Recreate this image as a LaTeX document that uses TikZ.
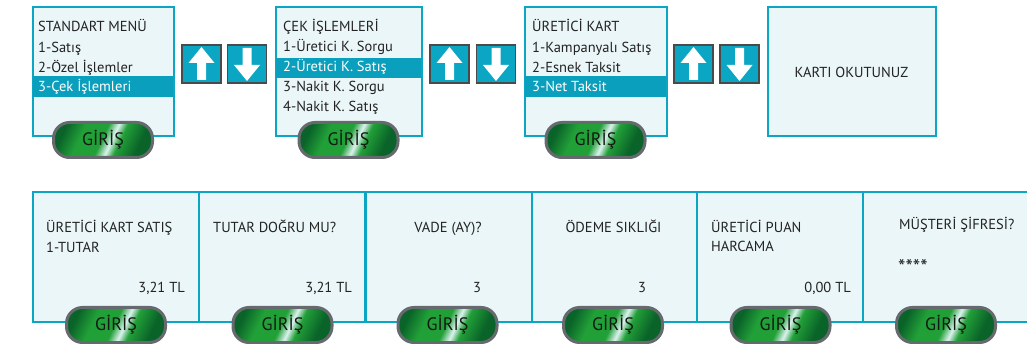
\documentclass[tikz,border=0pt]{standalone}
\usepackage{fontspec}
\setmainfont{PT Sans}

\definecolor{scrline}{HTML}{0AA6C4}
\definecolor{scrbg}{HTML}{EBF6F8}
\definecolor{selcol}{HTML}{0A9FBD}
\definecolor{txtdark}{HTML}{232323}
\definecolor{arrfill}{HTML}{0AA6C4}
\definecolor{arredge}{HTML}{4A4A4A}
\definecolor{btnedge}{HTML}{666A6E}
\definecolor{btntxt}{HTML}{121A14}
\definecolor{gdark}{HTML}{0A6429}
\definecolor{gmid}{HTML}{22A038}
\definecolor{glight}{HTML}{DDF2F0}

\newcommand{\scrfont}{\fontsize{14.5}{17}\selectfont}
\newcommand{\btnfont}{\fontsize{18}{20}\selectfont}

\pgfdeclarehorizontalshading{girisfill}{100bp}{color(0bp)=(gdark); color(25bp)=(gdark);
  color(36bp)=(gmid); color(49bp)=(gmid); color(55bp)=(glight); color(60bp)=(gmid);
  color(72bp)=(gdark); color(100bp)=(gdark)}

\tikzset{
  screen/.style={draw=scrline, fill=scrbg, line width=2pt, minimum height=129pt, inner sep=0pt},
  panel/.style={screen, minimum width=166pt},
  scrtxt/.style={font=\scrfont, text=txtdark, inner sep=0pt},
  seltxt/.style={scrtxt, text=white},
  girisbtn/.style={rectangle, rounded corners=16pt, minimum width=99pt, minimum height=35pt,
    draw=btnedge, line width=3pt, shade, shading=girisfill, shading angle=-25,
    font=\btnfont, text=btntxt, inner sep=0pt},
  arrbtn/.style={draw=arredge, fill=arrfill, line width=1.5pt, minimum width=39pt,
    minimum height=38pt, inner sep=0pt},
}

\begin{document}
\begin{tikzpicture}[x=1pt,y=-1pt]
\useasboundingbox (0,0) rectangle (1027,344);
\clip (0,0) rectangle (1027,344);

% Standart menu screen
\node[screen, minimum width=141pt] (s1) at (103,72) {};
\fill[selcol] (33,76) rectangle (173,97);
\node[scrtxt, anchor=base west] (s1t) at (38,32) {STANDART MENÜ};
\node[scrtxt, anchor=base west] (s1a) at (38,52.5) {1-Satış};
\node[scrtxt, anchor=base west] (s1b) at (38,72.5) {2-Özel İşlemler};
\node[seltxt, anchor=base west] (s1c) at (38,92) {3-Çek İşlemleri};
\node[girisbtn] (g1) at (103,140) {GİRİŞ};

% Up / down keys
\node[arrbtn] (up1) at (201.5,64) {};
\node[arrbtn] (dn1) at (247,64) {};
\fill[white,shift={(up1.center)}] (0,-17) -- (13,-1) -- (4.5,-1) -- (4.5,16) -- (-4.5,16) -- (-4.5,-1) -- (-13,-1) -- cycle;
\fill[white,shift={(dn1.center)}] (0,17) -- (13,1) -- (4.5,1) -- (4.5,-16) -- (-4.5,-16) -- (-4.5,1) -- (-13,1) -- cycle;

% Cek islemleri screen
\node[screen, minimum width=146pt] (s2) at (348.5,72) {};
\fill[selcol] (276,58) rectangle (421,78);
\node[scrtxt, anchor=base west] (s2t) at (283,32) {ÇEK İŞLEMLERİ};
\node[scrtxt, anchor=base west] (s2a) at (283,52) {1-Üretici K. Sorgu};
\node[seltxt, anchor=base west] (s2b) at (283,72) {2-Üretici K. Satış};
\node[scrtxt, anchor=base west] (s2c) at (283,92) {3-Nakit K. Sorgu};
\node[scrtxt, anchor=base west] (s2d) at (283,112) {4-Nakit K. Satış};
\node[girisbtn] (g2) at (348.5,140) {GİRİŞ};

\node[arrbtn] (up2) at (449.5,64) {};
\node[arrbtn] (dn2) at (496,64) {};
\fill[white,shift={(up2.center)}] (0,-17) -- (13,-1) -- (4.5,-1) -- (4.5,16) -- (-4.5,16) -- (-4.5,-1) -- (-13,-1) -- cycle;
\fill[white,shift={(dn2.center)}] (0,17) -- (13,1) -- (4.5,1) -- (4.5,-16) -- (-4.5,-16) -- (-4.5,1) -- (-13,1) -- cycle;

% Uretici kart screen
\node[screen, minimum width=142pt] (s3) at (595.5,72) {};
\fill[selcol] (525,76) rectangle (666,97);
\node[scrtxt, anchor=base west] (s3t) at (532,32) {ÜRETİCİ KART};
\node[scrtxt, anchor=base west] (s3a) at (532,52.5) {1-Kampanyalı Satış};
\node[scrtxt, anchor=base west] (s3b) at (532,72.5) {2-Esnek Taksit};
\node[seltxt, anchor=base west] (s3c) at (532,92) {3-Net Taksit};
\node[girisbtn] (g3) at (595.5,140) {GİRİŞ};

\node[arrbtn] (up3) at (693.5,64) {};
\node[arrbtn] (dn3) at (739.5,64) {};
\fill[white,shift={(up3.center)}] (0,-17) -- (13,-1) -- (4.5,-1) -- (4.5,16) -- (-4.5,16) -- (-4.5,-1) -- (-13,-1) -- cycle;
\fill[white,shift={(dn3.center)}] (0,17) -- (13,1) -- (4.5,1) -- (4.5,-16) -- (-4.5,-16) -- (-4.5,1) -- (-13,1) -- cycle;

% Card reading screen
\node[screen, minimum width=168pt] (s4) at (851.5,72) {};
\node[scrtxt] (s4t) at (851.5,72.5) {KARTI OKUTUNUZ};

% Bottom row of screens
\node[panel] (p1) at (115.5,257) {};
\node[panel] (p2) at (282,257) {};
\node[panel] (p3) at (448.5,257) {};
\node[panel] (p4) at (614.5,257) {};
\node[panel] (p5) at (780,257) {};
\node[panel, minimum width=190pt] (p6) at (958,257) {};

\node[scrtxt, anchor=base west] (p1t) at (46,233) {ÜRETİCİ KART SATIŞ};
\node[scrtxt, anchor=base west] (p1a) at (46,253) {1-TUTAR};
\node[scrtxt, anchor=base east] (p1v) at (185,293) {3,21 TL};

\node[scrtxt, anchor=base west] (p2t) at (213,233) {TUTAR DOĞRU MU?};
\node[scrtxt, anchor=base east] (p2v) at (352,293) {3,21 TL};

\node[scrtxt, anchor=base] (p3t) at (448,233) {VADE (AY)?};
\node[scrtxt, anchor=base] (p3v) at (477,293) {3};

\node[scrtxt, anchor=base] (p4t) at (613.5,233) {ÖDEME SIKLIĞI};
\node[scrtxt, anchor=base] (p4v) at (642,293) {3};

\node[scrtxt, anchor=base west] (p5t) at (711,233) {ÜRETİCİ PUAN};
\node[scrtxt, anchor=base west] (p5a) at (711,252) {HARCAMA};
\node[scrtxt, anchor=base east] (p5v) at (851,293) {0,00 TL};

\node[scrtxt, anchor=base west] (p6t) at (899,230) {MÜŞTERİ ŞİFRESİ?};
\node[scrtxt, anchor=base west, font=\fontsize{21}{24}\selectfont] (p6v) at (898,275) {****};

\node[girisbtn] (g4) at (116,325) {GİRİŞ};
\node[girisbtn] (g5) at (282.5,325) {GİRİŞ};
\node[girisbtn] (g6) at (447.5,325) {GİRİŞ};
\node[girisbtn] (g7) at (613,325) {GİRİŞ};
\node[girisbtn] (g8) at (780.5,325) {GİRİŞ};
\node[girisbtn] (g9) at (946,325) {GİRİŞ};

\end{tikzpicture}
\end{document}
